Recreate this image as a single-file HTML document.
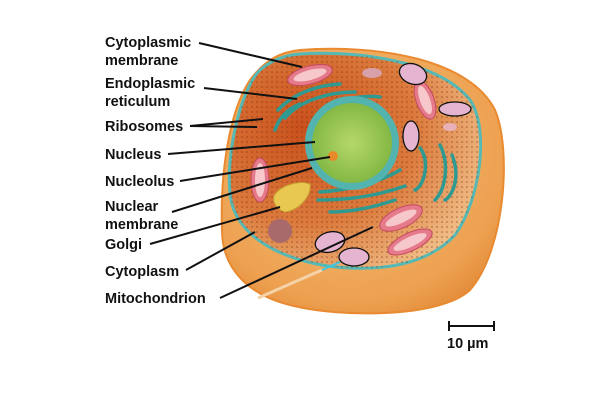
<!DOCTYPE html>
<html><head><meta charset="utf-8"><style>
body{margin:0;background:#fff;width:600px;height:400px;overflow:hidden}
svg{display:block}
text{font-family:"Liberation Sans",sans-serif;font-weight:bold;font-size:14.5px;fill:#111}
</style></head><body>
<svg width="600" height="400" viewBox="0 0 600 400">
<defs>
<radialGradient id="body" cx="0.45" cy="0.4" r="0.7">
<stop offset="0" stop-color="#f6c27a"/><stop offset="0.8" stop-color="#eda050"/><stop offset="1" stop-color="#e08835"/></radialGradient>
<radialGradient id="top" cx="0.3" cy="0.35" r="0.8">
<stop offset="0" stop-color="#c9501c"/><stop offset="0.55" stop-color="#db7a3c"/><stop offset="1" stop-color="#f2c48e"/></radialGradient>
<radialGradient id="nuc" cx="0.5" cy="0.5" r="0.5">
<stop offset="0" stop-color="#b6d86a"/><stop offset="1" stop-color="#84b844"/></radialGradient>
<pattern id="dots" width="5" height="5" patternUnits="userSpaceOnUse"><circle cx="2" cy="2" r="0.8" fill="#7a2a0c" opacity="0.6"/></pattern>
</defs>
<path d="M300,50 C380,44 470,60 495,110 C512,150 505,250 470,290 C440,318 340,318 290,305 C250,295 222,270 222,230 C220,170 230,110 250,80 C265,60 280,52 300,50Z" fill="url(#body)" stroke="#e98a30" stroke-width="2"/>
<path d="M300,54 C360,50 440,62 470,100 C490,130 480,200 455,235 C430,262 390,270 350,268 C300,266 240,245 231,200 C224,160 240,90 260,70 C272,60 285,55 300,54Z" fill="url(#top)" stroke="#56b9b6" stroke-width="3"/>
<path d="M300,54 C360,50 440,62 470,100 C490,130 480,200 455,235 C430,262 390,270 350,268 C300,266 240,245 231,200 C224,160 240,90 260,70 C272,60 285,55 300,54Z" fill="url(#dots)"/>
<g fill="none" stroke="#2e9a92" stroke-width="3.5" stroke-linecap="round">
<path d="M278,110 C295,92 320,85 340,84"/><path d="M285,118 C300,100 330,92 355,92"/>
<path d="M275,130 C280,115 290,108 300,104"/><path d="M332,105 C345,98 365,95 380,97"/>
<path d="M320,192 C350,190 380,182 400,170"/><path d="M318,200 C350,200 380,195 405,186"/>
<path d="M330,212 C355,212 380,205 395,200"/>
<path d="M420,148 C430,160 425,185 415,190"/><path d="M440,145 C450,165 445,190 435,200"/>
<path d="M452,155 C462,180 450,198 445,200"/>
</g>
<circle cx="352" cy="143" r="47" fill="#53b3ae"/>
<circle cx="352" cy="143" r="40" fill="url(#nuc)"/>
<circle cx="333" cy="156" r="5" fill="#e88a2a"/>
<g fill="#e57a8a" stroke="#c44a5e" stroke-width="1">
<ellipse cx="310" cy="75" rx="23" ry="9" transform="rotate(-15 310 75)"/>
<ellipse cx="260" cy="180" rx="9" ry="22"/>
<ellipse cx="425" cy="100" rx="9" ry="20" transform="rotate(-20 425 100)"/>
<ellipse cx="401" cy="218" rx="23" ry="10" transform="rotate(-25 401 218)"/>
<ellipse cx="410" cy="242" rx="24" ry="9" transform="rotate(-25 410 242)"/>
</g>
<g fill="#f6c8cc">
<ellipse cx="310" cy="75" rx="17" ry="5" transform="rotate(-15 310 75)"/>
<ellipse cx="260" cy="180" rx="5" ry="17"/>
<ellipse cx="425" cy="100" rx="5" ry="15" transform="rotate(-20 425 100)"/>
<ellipse cx="401" cy="218" rx="17" ry="5" transform="rotate(-25 401 218)"/>
<ellipse cx="410" cy="242" rx="18" ry="5" transform="rotate(-25 410 242)"/>
</g>
<path d="M274,196 C280,185 300,180 310,184 C312,195 300,210 285,212 C278,210 272,203 274,196Z" fill="#e8c850" stroke="#c8a030"/>
<circle cx="280" cy="231" r="12" fill="#a86a6a"/>
<ellipse cx="372" cy="73" rx="10" ry="5" fill="#d8a0a8"/>
<ellipse cx="450" cy="127" rx="7" ry="4" fill="#e8b0b8"/>
<g fill="#e4b4d0" stroke="#111" stroke-width="1.3">
<ellipse cx="413" cy="74" rx="14" ry="10" transform="rotate(20 413 74)"/>
<ellipse cx="455" cy="109" rx="16" ry="7"/>
<ellipse cx="411" cy="136" rx="8" ry="15"/>
<ellipse cx="330" cy="242" rx="15" ry="10" transform="rotate(-15 330 242)"/>
<ellipse cx="354" cy="257" rx="15" ry="9"/>
</g>
<path d="M258,298 L322,270" stroke="#f5d2a8" stroke-width="3"/>
<path d="M322,270 L340,262" stroke="#39c8e8" stroke-width="2"/>
<g stroke="#111" stroke-width="2" fill="none">
<line x1="199" y1="43" x2="302" y2="67"/>
<line x1="204" y1="88" x2="297" y2="99"/>
<line x1="190" y1="126" x2="263" y2="119"/>
<line x1="190" y1="126" x2="257" y2="127"/>
<line x1="168" y1="154" x2="315" y2="142"/>
<line x1="180" y1="181" x2="330" y2="157"/>
<line x1="172" y1="212" x2="312" y2="168"/>
<line x1="150" y1="244" x2="280" y2="207"/>
<line x1="186" y1="270" x2="255" y2="232"/>
<line x1="220" y1="298" x2="373" y2="227"/>
</g>
<text x="105" y="47">Cytoplasmic</text>
<text x="105" y="65">membrane</text>
<text x="105" y="88">Endoplasmic</text>
<text x="105" y="106">reticulum</text>
<text x="105" y="131">Ribosomes</text>
<text x="105" y="159">Nucleus</text>
<text x="105" y="186">Nucleolus</text>
<text x="105" y="211">Nuclear</text>
<text x="105" y="229">membrane</text>
<text x="105" y="249">Golgi</text>
<text x="105" y="276">Cytoplasm</text>
<text x="105" y="303">Mitochondrion</text>
<g stroke="#111" stroke-width="2"><line x1="449" y1="326" x2="494" y2="326"/><line x1="449" y1="321" x2="449" y2="331"/><line x1="494" y1="321" x2="494" y2="331"/></g>
<text x="447" y="348">10 µm</text>
</svg>
</body></html>
